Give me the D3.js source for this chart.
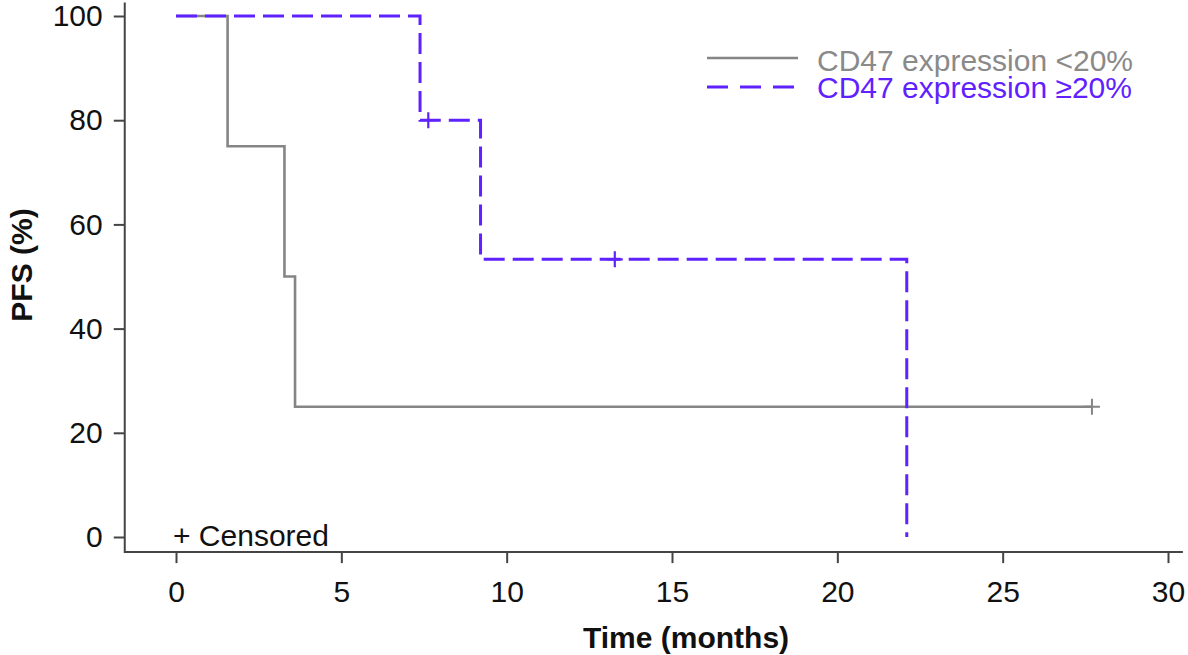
<!DOCTYPE html>
<html lang="en">
<head>
<meta charset="utf-8">
<title>PFS by CD47 expression</title>
<script src="https://cdnjs.cloudflare.com/ajax/libs/d3/7.8.5/d3.min.js"></script>
<style>
  body { margin: 0; background: #fff; }
  svg { font-family: Arial, "Liberation Sans", Helvetica, sans-serif; }
</style>
</head>
<body>
<svg id="chart" width="1188" height="655"></svg>
<script>
// step points for each group (time in months, PFS %)
var lowTimes = [0, 1.56, 3.28, 3.6, 27.7];
var lowPfs = [100, 75, 50, 25, 25];
var highTimes = [0, 7.38, 9.21, 22.1];
var highPfs = [100, 80, 53.3, 0];

// censored observations
var lowCensorTimes = [27.7];
var lowCensorPfs = [25];
var highCensorTimes = [7.63, 13.27];
var highCensorPfs = [80, 53.3];

var xTicks = [0, 5, 10, 15, 20, 25, 30];
var yTicks = [0, 20, 40, 60, 80, 100];
var legendLabels = ["CD47 expression <20%", "CD47 expression \u226520%"];

var grey = "#858585";
var purple = "#5f22ff";

var svg = d3.select("#chart");

var x = d3.scaleLinear().domain([0, 30]).range([176, 1168]);
var y = d3.scaleLinear().domain([0, 100]).range([537, 16]);

// axes
var xAxis = svg.append("g")
    .attr("transform", "translate(0," + y(-2.9) + ")")
    .call(d3.axisBottom(x).tickValues(xTicks).tickSize(11).tickPadding(18).tickSizeOuter(0));
var yAxis = svg.append("g")
    .attr("transform", "translate(" + x(-1.55) + ",0)")
    .call(d3.axisLeft(y).tickValues(yTicks).tickSize(11).tickPadding(11).tickSizeOuter(0));

[xAxis, yAxis].forEach(function (g) {
    g.select(".domain").remove();
    g.selectAll("line").attr("stroke", "#444").attr("stroke-width", 2);
    g.selectAll("text").attr("fill", "#111").style("font-size", "30px");
});

svg.append("line")
    .attr("x1", x(-1.55)).attr("x2", x(30.45))
    .attr("y1", y(-2.9)).attr("y2", y(-2.9))
    .attr("stroke", "#444").attr("stroke-width", 2);
svg.append("line")
    .attr("x1", x(-1.55)).attr("x2", x(-1.55))
    .attr("y1", y(-2.9) + 1).attr("y2", y(102.6))
    .attr("stroke", "#444").attr("stroke-width", 2);

// axis titles
svg.append("text")
    .attr("x", 686).attr("y", 648)
    .attr("text-anchor", "middle")
    .style("font-size", "30px").style("font-weight", "bold")
    .attr("fill", "#111")
    .text("Time (months)");
svg.append("text")
    .attr("transform", "translate(32,265) rotate(-90)")
    .attr("text-anchor", "middle")
    .style("font-size", "30px").style("font-weight", "bold")
    .attr("fill", "#111")
    .text("PFS (%)");

// curves
var line = d3.line()
    .x(function (d) { return x(d[0]); })
    .y(function (d) { return y(d[1]); })
    .curve(d3.curveStepAfter);

svg.append("path")
    .datum(d3.zip(lowTimes, lowPfs))
    .attr("d", line)
    .attr("fill", "none")
    .attr("stroke", grey)
    .attr("stroke-width", 2.6);

svg.append("path")
    .datum(d3.zip(highTimes, highPfs))
    .attr("d", line)
    .attr("fill", "none")
    .attr("stroke", purple)
    .attr("stroke-width", 3)
    .attr("stroke-dasharray", "21,8");

// censor marks
function censor(times, pfs, color, w) {
    var pts = d3.zip(times, pfs);
    svg.selectAll(null).data(pts).enter().append("path")
        .attr("d", function (d) {
            var cx = x(d[0]), cy = y(d[1]);
            return "M" + (cx - 8) + "," + cy + "H" + (cx + 8) +
                   "M" + cx + "," + (cy - 8) + "V" + (cy + 8);
        })
        .attr("stroke", color)
        .attr("stroke-width", w)
        .attr("fill", "none");
}
censor(lowCensorTimes, lowCensorPfs, grey, 2);
censor(highCensorTimes, highCensorPfs, purple, 2.2);

svg.append("text")
    .attr("x", 173).attr("y", 546)
    .style("font-size", "30px")
    .attr("fill", "#111")
    .text("+ Censored");

// legend
var legend = svg.append("g");
legend.append("line")
    .attr("x1", 707).attr("x2", 798).attr("y1", 58).attr("y2", 58)
    .attr("stroke", grey).attr("stroke-width", 2.6);
legend.append("line")
    .attr("x1", 707).attr("x2", 798).attr("y1", 87).attr("y2", 87)
    .attr("stroke", purple).attr("stroke-width", 3)
    .attr("stroke-dasharray", "21,12");
legend.append("text")
    .attr("x", 817).attr("y", 71)
    .style("font-size", "30px")
    .attr("fill", "#8a8a8a")
    .text(legendLabels[0]);
legend.append("text")
    .attr("x", 817).attr("y", 98)
    .style("font-size", "30px")
    .attr("fill", purple)
    .text(legendLabels[1]);
</script>
</body>
</html>
